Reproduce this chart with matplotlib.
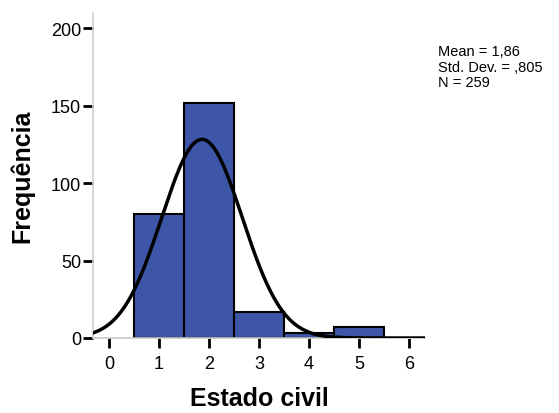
import numpy as np
import matplotlib.pyplot as plt

plt.rcParams['font.family'] = ['Liberation Sans', 'DejaVu Sans']

# histogram of Estado civil
bin_centers = [1, 2, 3, 4, 5]
counts = [80, 152, 17, 3, 7]
stats_text = ['Mean = 1,86', 'Std. Dev. = ,805', 'N = 259']
mean = 1.86
std = 0.805
n = 259

x_ticks = [0, 1, 2, 3, 4, 5, 6]
y_ticks = [0, 50, 100, 150, 200]

bar_color = '#3d56a8'

fig = plt.figure(figsize=(5.59, 4.14), dpi=100)
ax = fig.add_axes([93 / 559, 75 / 414, 332 / 559, 325 / 414])

ax.bar(bin_centers, counts, width=1.0, color=bar_color, edgecolor='black', linewidth=1.5, zorder=2)

# normal curve scaled to counts (bin width 1)
xs = np.linspace(-0.32, 6.32, 400)
ys = n / (std * np.sqrt(2 * np.pi)) * np.exp(-0.5 * ((xs - mean) / std) ** 2)
ax.plot(xs, ys, color='black', linewidth=2.5, zorder=3)

ax.set_xlim(-0.32, 6.32)
ax.set_ylim(0, 210)
ax.set_xticks(x_ticks)
ax.set_yticks(y_ticks)

for side in ['top', 'right']:
   ax.spines[side].set_visible(False)
ax.spines['left'].set_color('#d0d0d0')
ax.spines['bottom'].set_color('#c8c8c8')
ax.spines['left'].set_linewidth(1.2)
ax.spines['bottom'].set_linewidth(1.2)

ax.tick_params(axis='both', colors='black', labelsize=13, width=2, length=7.5, direction='out')
ax.tick_params(axis='x', pad=5)
ax.tick_params(axis='y', pad=1)

ax.set_xlabel('Estado civil', fontsize=18, fontweight='bold', labelpad=10)
ax.set_ylabel('Frequência', fontsize=18, fontweight='bold', labelpad=12)

fig.text(438 / 559, 1 - 45 / 414, '\n'.join(stats_text), fontsize=10.5, va='top', ha='left',
         linespacing=1.15)

fig.savefig('out.png', dpi=100)
